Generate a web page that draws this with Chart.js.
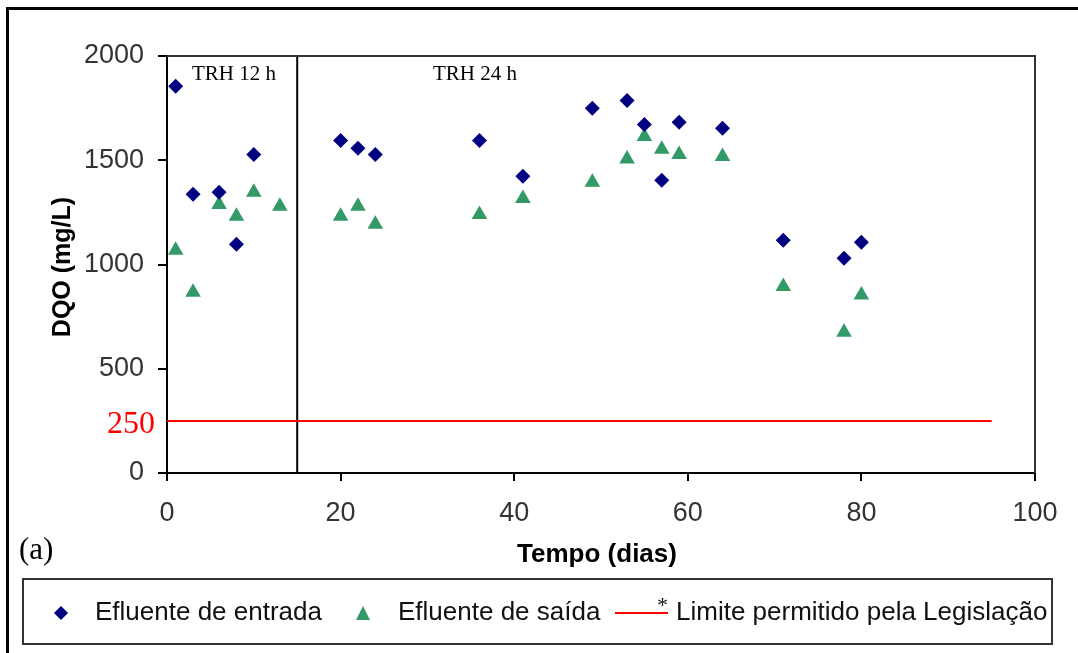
<!DOCTYPE html>
<html>
<head>
<meta charset="utf-8">
<script src="https://cdn.jsdelivr.net/npm/chart.js@4.4.0/dist/chart.umd.min.js"></script>
<style>
  html, body { margin: 0; padding: 0; background: #fff; }
  #wrap { width: 1078px; height: 653px; position: relative; }
</style>
</head>
<body>
<div id="wrap"><canvas id="dqo" width="1078" height="653"></canvas></div>
<script>
  // DQO ao longo do tempo
  const diasEntrada = [1, 3, 6, 8, 10, 20, 22, 24, 36, 41, 49, 53, 55, 57, 59, 64, 71, 78, 80];
  const dqoEntrada = [1855, 1337, 1346, 1097, 1528, 1595, 1557, 1528, 1595, 1423, 1749, 1787, 1672, 1404, 1682, 1653, 1116, 1030, 1107];

  const diasSaida = [1, 3, 6, 8, 10, 13, 20, 22, 24, 36, 41, 49, 53, 55, 57, 59, 64, 71, 78, 80];
  const dqoSaida = [1068, 867, 1288, 1231, 1346, 1279, 1231, 1279, 1193, 1240, 1317, 1394, 1506, 1614, 1553, 1527, 1518, 894, 675, 854];

  const limiteDias = [0, 95];
  const limiteDqo = [250, 250];

  const trocaTRH = [15, 15];
  const trocaDqo = [0, 2000];

  const xTicks = [0, 20, 40, 60, 80, 100];
  const yTicks = [0, 500, 1000, 1500, 2000];

  const SANS = '"Liberation Sans", Arial, sans-serif';
  const SERIF = '"Liberation Serif", "Times New Roman", serif';

  const pts = (xs, ys) => xs.map((x, i) => ({ x, y: ys[i] }));

  const extras = {
    id: "extras",
    afterDraw(chart) {
      const ctx = chart.ctx;
      const a = chart.chartArea;
      ctx.save();

      // outer frame
      ctx.strokeStyle = "#000";
      ctx.lineWidth = 3;
      ctx.beginPath();
      ctx.moveTo(7.5, 660);
      ctx.lineTo(7.5, 8.5);
      ctx.lineTo(1090, 8.5);
      ctx.stroke();

      // plot border top/right
      ctx.strokeStyle = "#333";
      ctx.lineWidth = 2;
      ctx.beginPath();
      ctx.moveTo(a.left, a.top);
      ctx.lineTo(a.right, a.top);
      ctx.lineTo(a.right, a.bottom);
      ctx.stroke();

      // annotations
      ctx.fillStyle = "#000";
      ctx.font = "21px " + SERIF;
      ctx.textBaseline = "alphabetic";
      ctx.textAlign = "left";
      ctx.fillText("TRH 12 h", 192, 80);
      ctx.fillText("TRH 24 h", 433, 80);

      ctx.fillStyle = "#ff0000";
      ctx.font = "32px " + SERIF;
      ctx.fillText("250", 107, 433);

      ctx.fillStyle = "#000";
      ctx.font = "31px " + SERIF;
      ctx.fillText("(a)", 19, 559);

      // axis titles
      ctx.font = "bold 26px " + SANS;
      ctx.textAlign = "center";
      ctx.fillText("Tempo (dias)", 597, 562);
      ctx.save();
      ctx.translate(70, 267);
      ctx.rotate(-Math.PI / 2);
      ctx.font = "bold 25px " + SANS;
      ctx.fillText("DQO (mg/L)", 0, 0);
      ctx.restore();

      // legend
      ctx.strokeStyle = "#333";
      ctx.lineWidth = 2;
      ctx.strokeRect(23, 579, 1029, 65);

      ctx.fillStyle = "#000080";
      ctx.beginPath();
      ctx.moveTo(61 - 7, 613);
      ctx.lineTo(61, 613 - 7);
      ctx.lineTo(61 + 7, 613);
      ctx.lineTo(61, 613 + 7);
      ctx.closePath();
      ctx.fill();

      ctx.fillStyle = "#339966";
      ctx.beginPath();
      ctx.moveTo(363, 606);
      ctx.lineTo(370, 620);
      ctx.lineTo(356, 620);
      ctx.closePath();
      ctx.fill();

      ctx.strokeStyle = "#ff0000";
      ctx.lineWidth = 2;
      ctx.beginPath();
      ctx.moveTo(615, 613);
      ctx.lineTo(668, 613);
      ctx.stroke();

      ctx.fillStyle = "#111";
      ctx.textAlign = "left";
      ctx.font = "26px " + SANS;
      ctx.fillText("Efluente de entrada", 95, 620);
      ctx.fillText("Efluente de saída", 398, 620);
      ctx.fillText("Limite permitido pela Legislação", 676, 620);
      ctx.font = "22px " + SERIF;
      ctx.fillText("*", 657, 612);

      ctx.restore();
    }
  };

  new Chart(document.getElementById("dqo"), {
    type: "scatter",
    data: {
      datasets: [
        {
          label: "Efluente de entrada",
          data: pts(diasEntrada, dqoEntrada),
          pointStyle: "rectRot",
          pointRadius: 7.5,
          backgroundColor: "#000080",
          borderColor: "#000080",
          borderWidth: 0
        },
        {
          label: "Efluente de saída",
          data: pts(diasSaida, dqoSaida),
          pointStyle: "triangle",
          pointRadius: 9,
          backgroundColor: "#339966",
          borderColor: "#339966",
          borderWidth: 0
        },
        {
          label: "Limite permitido pela Legislação",
          data: pts(limiteDias, limiteDqo),
          showLine: true,
          pointRadius: 0,
          borderColor: "#ff0000",
          borderWidth: 2
        },
        {
          label: "TRH",
          data: pts(trocaTRH, trocaDqo),
          showLine: true,
          pointRadius: 0,
          borderColor: "#000",
          borderWidth: 2
        }
      ]
    },
    options: {
      responsive: false,
      animation: false,
      events: [],
      layout: { padding: { left: 0, top: 56, right: 43, bottom: 0 } },
      plugins: {
        legend: { display: false },
        tooltip: { enabled: false }
      },
      scales: {
        x: {
          type: "linear",
          min: 0,
          max: 100,
          afterFit: (s) => { s.height = 180; },
          afterBuildTicks: (s) => { s.ticks = xTicks.map((v) => ({ value: v })); },
          grid: { drawOnChartArea: false, drawTicks: true, tickLength: 8, color: "#000", lineWidth: 2 },
          border: { display: true, color: "#000", width: 2 },
          ticks: { color: "#333", padding: 16, maxRotation: 0, font: { family: SANS, size: 27 }, callback: (v) => String(v) }
        },
        y: {
          type: "linear",
          min: 0,
          max: 2000,
          afterFit: (s) => { s.width = 167; },
          afterBuildTicks: (s) => { s.ticks = yTicks.map((v) => ({ value: v })); },
          grid: { drawOnChartArea: false, drawTicks: true, tickLength: 9, color: "#000", lineWidth: 2 },
          border: { display: true, color: "#000", width: 2 },
          ticks: { color: "#333", padding: 14, font: { family: SANS, size: 27 }, callback: (v) => String(v) }
        }
      }
    },
    plugins: [extras]
  });
</script>
</body>
</html>
